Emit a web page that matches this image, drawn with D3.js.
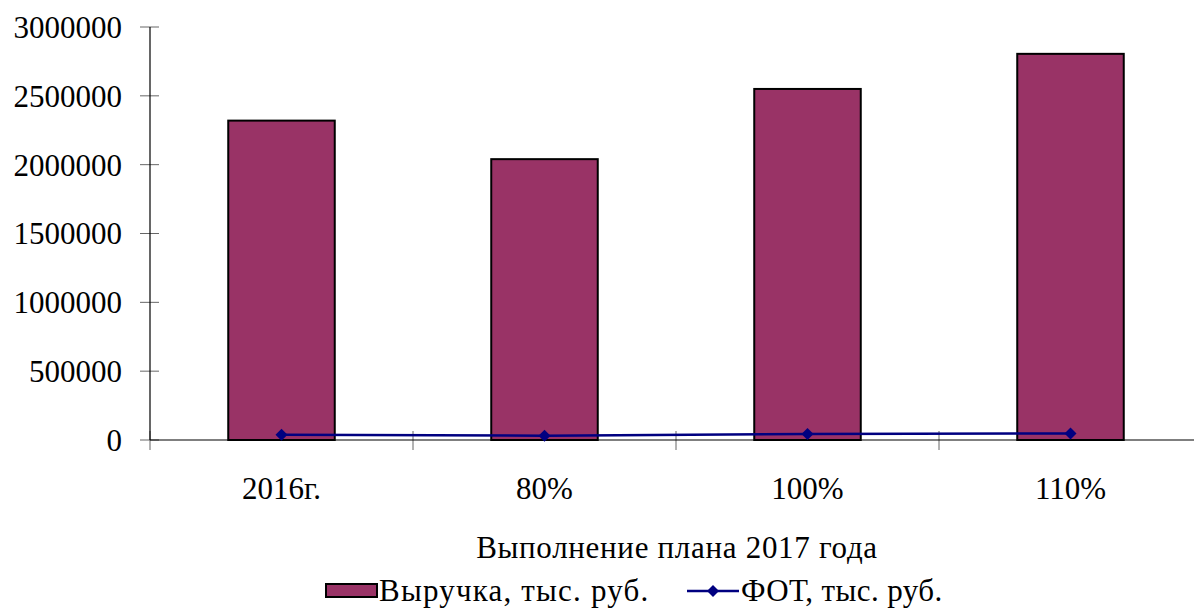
<!DOCTYPE html>
<html><head><meta charset="utf-8">
<script src="https://cdn.jsdelivr.net/npm/d3@7"></script>
<style>body{margin:0;background:#fff}svg{display:block}text{font-family:"Liberation Serif","Times New Roman",serif;fill:#000}</style>
</head><body>
<svg id="c" width="1194" height="608"></svg>
<script>
const categories = ["2016г.", "80%", "100%", "110%"];
const revenue = [2320000, 2040000, 2550000, 2805000];
const payroll = [38000, 31000, 44000, 48000];
const yTicks = [0, 500000, 1000000, 1500000, 2000000, 2500000, 3000000];
const seriesNames = ["Выручка, тыс. руб.", "ФОТ, тыс. руб."];
const xTitle = "Выполнение плана 2017 года";

const svg = d3.select("#c");
const fs = 31;
const x = d3.scaleBand().domain(categories).range([150, 1202]).padding(0);
const y = d3.scaleLinear().domain([0, 3000000]).range([440, 27]);

// y ticks (crossing)
svg.append("g").selectAll("line").data(yTicks).join("line")
  .attr("x1", 140).attr("x2", 159)
  .attr("y1", d => y(d)).attr("y2", d => y(d))
  .attr("stroke", "#666").attr("stroke-width", 1);
svg.append("g").selectAll("text").data(yTicks).join("text")
  .attr("x", 122).attr("y", d => y(d)).attr("dy", "0.35em")
  .attr("text-anchor", "end").attr("font-size", fs).text(d => d);

// x ticks (crossing) at band boundaries
const bounds = categories.map(c => x(c));
svg.append("g").selectAll("line").data(bounds).join("line")
  .attr("x1", d => d).attr("x2", d => d)
  .attr("y1", 431).attr("y2", 450)
  .attr("stroke", "#666").attr("stroke-width", 1);

// bars
const bw = x.bandwidth() * 0.405;
svg.append("g").selectAll("rect").data(categories).join("rect")
  .attr("x", (c) => x(c) + x.bandwidth() / 2 - bw / 2)
  .attr("y", (c, i) => y(revenue[i]))
  .attr("width", bw)
  .attr("height", (c, i) => y(0) - y(revenue[i]))
  .attr("fill", "#993366").attr("stroke", "#000").attr("stroke-width", 2);

// axes lines
svg.append("line").attr("x1", 150).attr("x2", 150).attr("y1", y(3000000)).attr("y2", y(0))
  .attr("stroke", "#000").attr("stroke-width", 1.2);
svg.append("line").attr("x1", 150).attr("x2", 1194).attr("y1", y(0)).attr("y2", y(0))
  .attr("stroke", "#000").attr("stroke-width", 1.2);

// line series
const cx = c => x(c) + x.bandwidth() / 2;
const line = d3.line().x((d, i) => cx(categories[i])).y(d => y(d));
svg.append("path").datum(payroll).attr("d", line)
  .attr("fill", "none").attr("stroke", "#000080").attr("stroke-width", 2.5);
svg.append("g").selectAll("path").data(payroll).join("path")
  .attr("d", d3.symbol().type(d3.symbolSquare).size(72))
  .attr("transform", (d, i) => `translate(${cx(categories[i])},${y(d)}) rotate(45)`)
  .attr("fill", "#000080");

// category labels
svg.append("g").selectAll("text").data(categories).join("text")
  .attr("x", c => cx(c)).attr("y", 499)
  .attr("text-anchor", "middle").attr("font-size", fs).text(c => c);

// axis title
svg.append("text").attr("x", 677).attr("y", 558).attr("text-anchor", "middle")
  .attr("font-size", fs).attr("letter-spacing", 0.7).text(xTitle);

// legend
svg.append("rect").attr("x", 326).attr("y", 584).attr("width", 51).attr("height", 13)
  .attr("fill", "#993366").attr("stroke", "#000").attr("stroke-width", 2);
svg.append("text").attr("x", 379).attr("y", 601).attr("font-size", fs)
  .attr("letter-spacing", 1.2).text(seriesNames[0]);
svg.append("line").attr("x1", 687).attr("x2", 739).attr("y1", 591).attr("y2", 591)
  .attr("stroke", "#000080").attr("stroke-width", 2.5);
svg.append("path").attr("d", d3.symbol().type(d3.symbolSquare).size(72)())
  .attr("transform", "translate(713,591) rotate(45)").attr("fill", "#000080");
svg.append("text").attr("x", 741).attr("y", 601).attr("font-size", fs)
  .attr("letter-spacing", 0.4).text(seriesNames[1]);
</script>
</body></html>
